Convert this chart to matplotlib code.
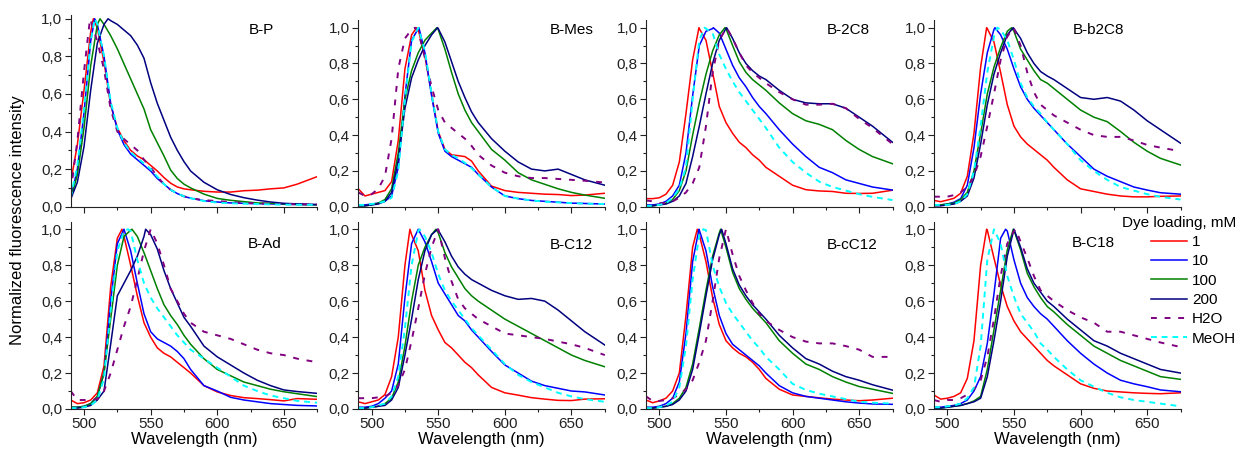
import numpy as np
import matplotlib
matplotlib.use("Agg")
import matplotlib.pyplot as plt
from matplotlib.ticker import MultipleLocator, FuncFormatter

plt.rcParams['font.family'] = ['Liberation Sans', 'DejaVu Sans']
plt.rcParams['font.size'] = 11

# wavelength grid (nm) shared by every spectrum
wl = [490, 495, 500, 505, 510, 515, 520, 525, 530, 535, 540, 545, 550, 555,
      560, 565, 570, 575, 580, 590, 600, 610, 620, 630, 640, 650, 660, 675]

series = ['1', '10', '100', '200', 'H2O', 'MeOH']
colors = ['#ff0000', '#0000ff', '#008000', '#000080', '#800080', '#00ffff']
panel_names = ['B-P', 'B-Mes', 'B-2C8', 'B-b2C8', 'B-Ad', 'B-C12', 'B-cC12', 'B-C18']

# rows: 1, 10, 100, 200 mM, H2O, MeOH ; *_peak = emission maximum (normalized to 1)
b_p = [
    [.13, .33, .62, .93, .95, .77, .54, .42, .35, .30, .27, .25, .22, .19, .155, .125, .105, .095, .09, .082, .078, .078, .085, .088, .095, .10, .12, .16],
    [.045, .2, .5, .88, .97, .80, .55, .41, .33, .28, .25, .22, .19, .15, .12, .09, .07, .055, .045, .032, .025, .02, .018, .016, .015, .013, .012, .01],
    [.04, .17, .42, .75, .97, .97, .91, .84, .76, .68, .60, .52, .41, .34, .27, .195, .15, .12, .10, .067, .044, .034, .027, .02, .018, .015, .012, .01],
    [.04, .13, .32, .62, .87, .97, .99, .97, .94, .91, .86, .79, .66, .55, .46, .37, .30, .24, .19, .13, .09, .065, .048, .035, .025, .018, .015, .012],
    [.08, .35, .72, .99, .88, .73, .52, .40, .36, .33, .30, .25, .21, .16, .12, .09, .07, .055, .045, .035, .03, .025, .02, .018, .015, .014, .013, .012],
    [.05, .22, .52, .88, .97, .80, .56, .42, .34, .29, .26, .23, .20, .16, .12, .09, .07, .055, .045, .03, .022, .018, .016, .014, .012, .011, .01, .01],
]
b_p_peak = [507, 508, 512, 518, 504.5, 508]

b_mes = [
    [.10, .06, .07, .08, .09, .14, .37, .77, .96, .99, .84, .63, .42, .32, .29, .285, .28, .255, .2, .115, .09, .08, .075, .07, .068, .062, .065, .075],
    [.01, .01, .015, .02, .03, .06, .22, .62, .93, .995, .86, .62, .41, .31, .28, .26, .24, .22, .18, .11, .06, .045, .035, .03, .025, .02, .018, .015],
    [.005, .005, .01, .02, .04, .1, .3, .6, .76, .86, .93, .97, .99, .88, .75, .63, .54, .47, .42, .32, .26, .19, .15, .125, .1, .08, .065, .047],
    [.005, .005, .01, .015, .03, .08, .26, .55, .72, .82, .9, .96, .995, .92, .81, .7, .61, .53, .47, .38, .31, .25, .21, .2, .21, .18, .15, .12],
    [.08, .06, .07, .1, .17, .38, .77, .94, .99, .98, .83, .67, .54, .47, .44, .41, .38, .34, .29, .23, .19, .17, .16, .16, .155, .15, .145, .135],
    [.01, .01, .015, .02, .03, .05, .2, .6, .92, .995, .87, .63, .42, .32, .29, .27, .245, .215, .18, .11, .06, .045, .035, .028, .024, .02, .017, .015],
]
b_mes_peak = [533.75, 535.5, 549, 549.5, 532.5, 535]

b_2c8 = [
    [.045, .045, .05, .07, .12, .25, .52, .82, .995, .93, .75, .56, .47, .41, .36, .33, .29, .26, .22, .17, .12, .095, .088, .085, .075, .074, .075, .092],
    [.01, .01, .015, .03, .06, .12, .3, .62, .9, .98, .995, .97, .88, .79, .72, .67, .61, .56, .52, .43, .35, .28, .22, .19, .15, .13, .11, .093],
    [.005, .005, .01, .02, .04, .09, .2, .4, .58, .74, .87, .96, .995, .9, .81, .75, .71, .68, .65, .58, .52, .48, .46, .43, .37, .32, .28, .24],
    [.005, .005, .01, .015, .03, .06, .13, .28, .45, .63, .8, .93, .995, .94, .86, .8, .76, .73, .71, .65, .6, .58, .575, .575, .55, .5, .45, .36],
    [.035, .03, .02, .02, .03, .05, .08, .13, .22, .45, .75, .93, .995, .94, .86, .79, .75, .72, .69, .64, .6, .57, .57, .575, .55, .49, .44, .35],
    [.005, .005, .01, .02, .05, .1, .22, .6, .93, .995, .97, .85, .77, .7, .64, .59, .54, .49, .44, .33, .25, .19, .14, .11, .09, .07, .055, .037],
]
b_2c8_peak = [529.75, 540.5, 549.25, 550.5, 550.5, 534]

b_b2c8 = [
    [.035, .028, .037, .047, .075, .17, .41, .78, .995, .92, .75, .57, .45, .39, .35, .32, .29, .26, .22, .15, .1, .085, .07, .06, .055, .055, .058, .06],
    [.01, .01, .015, .025, .045, .12, .33, .63, .86, .99, .96, .88, .77, .67, .6, .55, .51, .47, .43, .35, .28, .21, .17, .14, .11, .093, .078, .07],
    [.01, .01, .015, .02, .04, .08, .2, .41, .63, .78, .89, .98, .98, .88, .82, .76, .71, .69, .66, .6, .54, .5, .475, .42, .36, .31, .27, .233],
    [.005, .005, .01, .015, .03, .06, .16, .35, .57, .74, .86, .96, .995, .94, .86, .8, .755, .73, .71, .66, .61, .6, .61, .59, .54, .48, .43, .355],
    [.056, .056, .056, .065, .08, .11, .17, .28, .45, .63, .82, .95, .995, .9, .75, .64, .57, .54, .51, .47, .43, .4, .39, .39, .37, .345, .33, .31],
    [.01, .01, .01, .015, .03, .07, .2, .45, .75, .95, .99, .93, .82, .69, .61, .56, .52, .47, .43, .35, .26, .2, .15, .11, .09, .07, .055, .04],
]
b_b2c8_peak = [529.5, 535.75, 548.25, 549.5, 549.5, 537.5]

b_ad = [
    [.05, .03, .035, .05, .09, .24, .68, .95, .96, .8, .63, .48, .4, .34, .31, .29, .26, .23, .2, .13, .095, .075, .063, .058, .052, .045, .058, .054],
    [.01, .01, .015, .03, .07, .2, .6, .92, .995, .88, .7, .53, .43, .39, .37, .35, .32, .28, .22, .13, .1, .065, .05, .04, .03, .025, .02, .017],
    [.01, .01, .015, .03, .07, .2, .5, .8, .96, .995, .96, .87, .77, .67, .58, .52, .47, .41, .36, .28, .22, .185, .15, .13, .11, .096, .085, .069],
    [.005, .005, .01, .02, .05, .1, .36, .63, .7, .77, .85, .96, .97, .89, .77, .67, .59, .51, .46, .35, .29, .245, .2, .16, .13, .106, .097, .087],
    [.1, .05, .05, .05, .055, .1, .2, .33, .46, .57, .72, .88, .995, .92, .8, .67, .6, .53, .48, .43, .41, .39, .36, .33, .31, .3, .28, .26],
    [.005, .005, .01, .02, .05, .17, .55, .88, .99, .99, .83, .7, .62, .56, .51, .46, .41, .37, .33, .28, .23, .18, .13, .1, .075, .06, .045, .035],
]
b_ad_peak = [528.5, 530, 536, 546.25, 550, 533]

b_c12 = [
    [.04, .03, .04, .05, .08, .18, .4, .8, .97, .88, .66, .52, .44, .37, .34, .3, .26, .23, .19, .12, .09, .077, .063, .055, .048, .047, .055, .057],
    [.01, .01, .015, .03, .06, .1, .25, .62, .92, .995, .93, .82, .7, .64, .58, .52, .49, .44, .4, .32, .245, .2, .155, .13, .115, .1, .095, .078],
    [.005, .005, .01, .015, .03, .06, .15, .35, .6, .8, .9, .97, .98, .87, .79, .73, .67, .63, .6, .55, .5, .46, .42, .38, .34, .3, .27, .235],
    [.005, .005, .01, .015, .02, .05, .12, .3, .5, .72, .88, .97, .995, .93, .85, .79, .75, .72, .7, .66, .63, .61, .615, .6, .55, .49, .43, .356],
    [.06, .06, .06, .065, .07, .09, .13, .22, .38, .56, .75, .9, .995, .84, .71, .61, .56, .53, .5, .46, .42, .41, .4, .39, .375, .36, .34, .3],
    [.005, .005, .01, .02, .03, .07, .18, .45, .8, .99, .96, .87, .75, .66, .6, .55, .5, .45, .41, .33, .25, .19, .15, .12, .09, .07, .055, .04],
]
b_c12_peak = [528.75, 535, 548.25, 549.5, 550, 536]

b_cc12 = [
    [.05, .035, .045, .06, .1, .2, .52, .9, .97, .82, .62, .47, .38, .34, .31, .29, .26, .22, .17, .11, .078, .07, .062, .055, .05, .046, .05, .06],
    [.01, .01, .015, .03, .06, .15, .42, .82, .995, .88, .68, .52, .42, .36, .33, .3, .27, .24, .2, .13, .09, .07, .06, .05, .04, .033, .028, .026],
    [.005, .005, .01, .015, .03, .06, .12, .25, .45, .66, .85, .98, .9, .76, .67, .61, .56, .52, .48, .38, .31, .25, .22, .18, .15, .125, .11, .087],
    [.005, .005, .01, .015, .025, .05, .1, .22, .42, .63, .83, .97, .92, .78, .69, .63, .58, .54, .5, .41, .34, .28, .25, .21, .18, .16, .135, .105],
    [.07, .045, .045, .05, .06, .08, .11, .16, .26, .38, .6, .84, .995, .86, .74, .66, .59, .53, .49, .44, .4, .375, .365, .365, .35, .33, .29, .29],
    [.005, .005, .01, .02, .04, .12, .35, .72, .97, .995, .8, .68, .59, .53, .48, .43, .38, .34, .29, .22, .14, .106, .085, .07, .055, .04, .035, .03],
]
b_cc12_peak = [528.5, 529.75, 546, 546.75, 550, 533]

b_c18 = [
    [.078, .055, .06, .07, .09, .17, .38, .8, .995, .84, .69, .57, .49, .43, .39, .35, .31, .27, .24, .19, .14, .115, .1, .095, .09, .087, .085, .09],
    [.01, .01, .015, .02, .03, .05, .1, .18, .365, .64, .95, .99, .83, .7, .62, .57, .53, .5, .46, .38, .31, .25, .2, .16, .14, .124, .106, .096],
    [.005, .005, .01, .015, .02, .03, .045, .07, .22, .44, .66, .885, .995, .885, .755, .68, .62, .57, .54, .47, .41, .35, .31, .27, .24, .21, .18, .165],
    [.005, .005, .01, .015, .02, .03, .04, .06, .18, .38, .6, .85, .995, .9, .78, .7, .65, .6, .57, .5, .44, .38, .35, .31, .28, .25, .22, .2],
    [.05, .04, .05, .05, .06, .08, .11, .16, .29, .5, .74, .92, .99, .93, .84, .74, .66, .63, .6, .55, .51, .48, .43, .43, .41, .39, .37, .345],
    [.01, .01, .015, .02, .03, .06, .12, .35, .83, .995, .92, .74, .625, .53, .48, .43, .365, .33, .29, .22, .16, .124, .09, .065, .05, .04, .03, .015],
]
b_c18_peak = [529.5, 543.75, 549.5, 550, 551.25, 535]

panels = [(b_p, b_p_peak), (b_mes, b_mes_peak), (b_2c8, b_2c8_peak), (b_b2c8, b_b2c8_peak),
          (b_ad, b_ad_peak), (b_c12, b_c12_peak), (b_cc12, b_cc12_peak), (b_c18, b_c18_peak)]


def with_peak(vals, peak):
    x = np.array(wl, dtype=float)
    y = np.array(vals, dtype=float)
    if peak in wl:
        y[wl.index(peak)] = 1.0
        return x, y
    i = np.searchsorted(x, peak)
    return np.insert(x, i, peak), np.insert(y, i, 1.0)


W, H = 1247, 457
fig = plt.figure(figsize=(W / 100, H / 100), dpi=100)

lefts = [70.7, 358.3, 646, 934]
ax_w = 246.5
# (top px, bottom px, ymax) per row
rows = [(20, 206.7, 1.043), (221.7, 409, 1.042)]
title_pos = [(261, 33.5), (571.7, 34), (848, 34), (1098, 34),
             (265, 248.3), (571.7, 248.7), (852.3, 248.7), (1093, 247.3)]

fmt = FuncFormatter(lambda v, p: f"{v:.1f}".replace('.', ','))
styles = ['-', '-', '-', '-', (0, (3, 4)), (0, (3, 2.5))]
widths = [1.1, 1.1, 1.1, 1.1, 1.4, 1.4]

axes = []
for k, (data, peaks) in enumerate(panels):
    r, c = divmod(k, 4)
    top, bot, ymax = rows[r]
    if k == 0:
        top, ymax = 15, 1.02
    ax = fig.add_axes([lefts[c] / W, 1 - bot / H, ax_w / W, (bot - top) / H])
    for j in range(6):
        x, y = with_peak(data[j], peaks[j])
        ax.plot(x, y, color=colors[j], lw=widths[j], ls=styles[j], label=series[j])
    ax.set_xlim(490, 675)
    ax.set_ylim(0, ymax)
    ax.xaxis.set_major_locator(MultipleLocator(50))
    ax.xaxis.set_minor_locator(MultipleLocator(25))
    ax.yaxis.set_major_locator(MultipleLocator(0.2))
    ax.yaxis.set_minor_locator(MultipleLocator(0.1))
    ax.yaxis.set_major_formatter(fmt)
    for s in ['top', 'right']:
        ax.spines[s].set_visible(False)
    for s in ['left', 'bottom']:
        ax.spines[s].set_linewidth(0.8)
        ax.spines[s].set_color('#222222')
    ax.tick_params(which='major', direction='out', length=4, width=0.8, labelsize=11,
                   pad=2, colors='#222222')
    ax.tick_params(which='minor', direction='out', length=2.2, width=0.8, colors='#222222')
    if r == 0:
        ax.tick_params(labelbottom=False)
    else:
        ax.set_xlabel('Wavelength (nm)', fontsize=12, labelpad=0.5)
    tx, ty = title_pos[k]
    fig.text(tx / W, 1 - ty / H, panel_names[k], ha='center', va='baseline', fontsize=11)
    axes.append(ax)

fig.text(18 / W, 1 - 220 / H, 'Normalized fluorescence intensity', rotation=90,
         ha='center', va='center', fontsize=12)

h, l = axes[-1].get_legend_handles_labels()
fig.legend(h, l, title='Dye loading, mM', loc='upper right',
           bbox_to_anchor=(1236 / W, 1 - 215.5 / H), frameon=False, alignment='right',
           borderpad=0, borderaxespad=0, handlelength=2.3, handletextpad=0.35,
           labelspacing=0.35, fontsize=11, title_fontsize=11)

fig.savefig('out.png', dpi=100)
